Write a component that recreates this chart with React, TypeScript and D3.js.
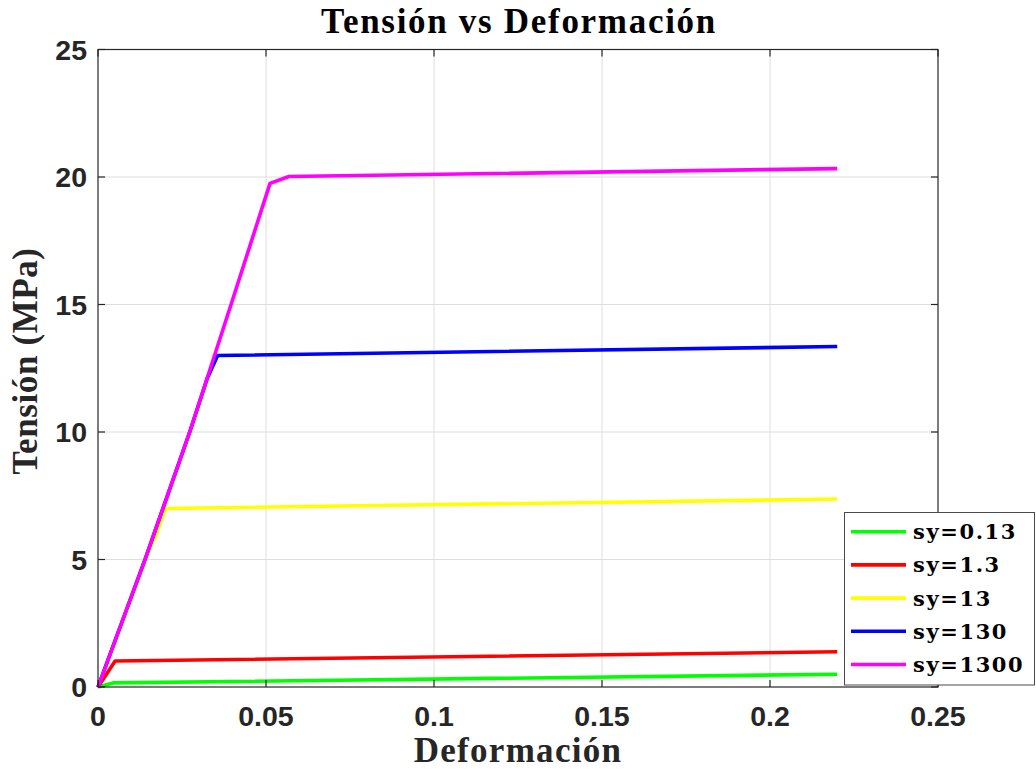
import { useEffect, useRef } from "react";
import * as d3 from "d3";

// curves (strain, stress in MPa)
const seriesLabels = ["sy=0.13", "sy=1.3", "sy=13", "sy=130", "sy=1300"];
const seriesColors = ["#00ff00", "#ff0000", "#ffff00", "#0000ff", "#ff00ff"];

const strainSy013 = [0, 0.0045, 0.22];
const stressSy013 = [0, 0.16, 0.5];

const strainSy13a = [0, 0.0051, 0.22];
const stressSy13a = [0, 1.02, 1.38];

const strainSy13 = [0, 0.0140, 0.0174, 0.0201, 0.22];
const stressSy13 = [0, 5.0, 6.0, 7.0, 7.37];

const strainSy130 = [0, 0.0140, 0.0273, 0.0325, 0.0356, 0.22];
const stressSy130 = [0, 5.0, 10.0, 12.1, 13.0, 13.35];

const strainSy1300 = [0, 0.0140, 0.0273, 0.0396, 0.0512, 0.0568, 0.22];
const stressSy1300 = [0, 5.0, 10.0, 15.0, 19.75, 20.02, 20.33];

const xTicks = [0, 0.05, 0.1, 0.15, 0.2, 0.25];
const yTicks = [0, 5, 10, 15, 20, 25];

const W = 1036;
const H = 769;

function App() {
  const svgRef = useRef<SVGSVGElement>(null);

  useEffect(() => {
    const svg = d3.select(svgRef.current);
    svg.selectAll("*").remove();

    const x = d3.scaleLinear().domain([0, 0.25]).range([98, 938]);
    const y = d3.scaleLinear().domain([0, 25]).range([687, 49.5]);
    const axisColor = "#262626";

    const series = [
      { xs: strainSy013, ys: stressSy013 },
      { xs: strainSy13a, ys: stressSy13a },
      { xs: strainSy13, ys: stressSy13 },
      { xs: strainSy130, ys: stressSy130 },
      { xs: strainSy1300, ys: stressSy1300 },
    ].map((s, i) => ({
      label: seriesLabels[i],
      color: seriesColors[i],
      points: s.xs.map((v, j) => [v, s.ys[j]] as [number, number]),
    }));

    // grid
    const grid = svg.append("g").attr("stroke", "#dedede").attr("stroke-width", 1);
    grid
      .selectAll("line.gx")
      .data(xTicks.slice(1, -1))
      .join("line")
      .attr("x1", (d) => x(d))
      .attr("x2", (d) => x(d))
      .attr("y1", y(0))
      .attr("y2", y(25));
    grid
      .selectAll("line.gy")
      .data(yTicks.slice(1, -1))
      .join("line")
      .attr("x1", x(0))
      .attr("x2", x(0.25))
      .attr("y1", (d) => y(d))
      .attr("y2", (d) => y(d));

    // lines
    const line = d3
      .line<[number, number]>()
      .x((d) => x(d[0]))
      .y((d) => y(d[1]));

    svg
      .append("g")
      .selectAll("path")
      .data(series)
      .join("path")
      .attr("fill", "none")
      .attr("stroke", (d) => d.color)
      .attr("stroke-width", 3.6)
      .attr("stroke-linejoin", "round")
      .attr("d", (d) => line(d.points));

    // box + inner ticks on all sides
    const frame = svg.append("g").attr("stroke", axisColor).attr("stroke-width", 1.2);
    frame
      .append("rect")
      .attr("x", x(0))
      .attr("y", y(25))
      .attr("width", x(0.25) - x(0))
      .attr("height", y(0) - y(25))
      .attr("fill", "none");
    const tl = 7;
    xTicks.forEach((t) => {
      frame.append("line").attr("x1", x(t)).attr("x2", x(t)).attr("y1", y(0)).attr("y2", y(0) - tl);
      frame.append("line").attr("x1", x(t)).attr("x2", x(t)).attr("y1", y(25)).attr("y2", y(25) + tl);
    });
    yTicks.forEach((t) => {
      frame.append("line").attr("x1", x(0)).attr("x2", x(0) + tl).attr("y1", y(t)).attr("y2", y(t));
      frame.append("line").attr("x1", x(0.25)).attr("x2", x(0.25) - tl).attr("y1", y(t)).attr("y2", y(t));
    });

    // tick labels
    const tickFont = "'Liberation Sans', Arial, sans-serif";
    svg
      .append("g")
      .selectAll("text")
      .data(xTicks)
      .join("text")
      .attr("x", (d) => x(d))
      .attr("y", y(0) + 39)
      .attr("text-anchor", "middle")
      .attr("font-family", tickFont)
      .attr("font-weight", "bold")
      .attr("font-size", 28.5)
      .attr("fill", axisColor)
      .text((d) => String(d));
    svg
      .append("g")
      .selectAll("text")
      .data(yTicks)
      .join("text")
      .attr("x", 87)
      .attr("y", (d) => y(d) + 10)
      .attr("text-anchor", "end")
      .attr("font-family", tickFont)
      .attr("font-weight", "bold")
      .attr("font-size", 28.5)
      .attr("fill", axisColor)
      .text((d) => String(d));

    // title and axis labels (latex-ish serif)
    const serif = "'Liberation Serif', 'Times New Roman', serif";
    svg
      .append("text")
      .attr("x", 519)
      .attr("y", 33)
      .attr("text-anchor", "middle")
      .attr("font-family", serif)
      .attr("font-weight", "bold")
      .attr("font-size", 35)
      .attr("letter-spacing", 1.7)
      .attr("fill", "#000")
      .text("Tensión vs Deformación");
    svg
      .append("text")
      .attr("x", 518)
      .attr("y", 762)
      .attr("text-anchor", "middle")
      .attr("font-family", serif)
      .attr("font-weight", "bold")
      .attr("font-size", 35)
      .attr("letter-spacing", 1.3)
      .attr("fill", axisColor)
      .text("Deformación");
    svg
      .append("text")
      .attr("transform", "translate(37,361) rotate(-90)")
      .attr("text-anchor", "middle")
      .attr("font-family", serif)
      .attr("font-weight", "bold")
      .attr("font-size", 35)
      .attr("letter-spacing", 0.6)
      .attr("fill", axisColor)
      .text("Tensión (MPa)");

    // legend
    const lg = svg.append("g");
    lg.append("rect")
      .attr("x", 844.5)
      .attr("y", 512.5)
      .attr("width", 190)
      .attr("height", 172.5)
      .attr("fill", "#fff")
      .attr("stroke", "#4a4a4a")
      .attr("stroke-width", 1);
    const rows = lg
      .selectAll("g")
      .data(series)
      .join("g")
      .attr("transform", (_, i) => `translate(0,${531.7 + i * 33.2})`);
    rows
      .append("line")
      .attr("x1", 851)
      .attr("x2", 906)
      .attr("stroke", (d) => d.color)
      .attr("stroke-width", 3.6);
    rows
      .append("text")
      .attr("x", 913)
      .attr("y", 7.5)
      .attr("font-family", "'DejaVu Serif', serif")
      .attr("font-weight", "bold")
      .attr("font-size", 21)
      .attr("letter-spacing", 1.6)
      .attr("fill", "#000")
      .text((d) => d.label);
  }, []);

  return (
    <svg
      ref={svgRef}
      width={W}
      height={H}
      style={{ position: "absolute", left: 0, top: 0, background: "#fff" }}
    />
  );
}

export default App;
